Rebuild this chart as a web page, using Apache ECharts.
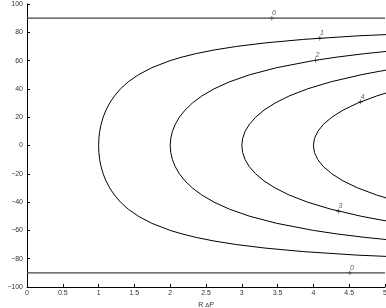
<!DOCTYPE html>
<html><head><meta charset="utf-8">
<script src="https://cdn.jsdelivr.net/npm/echarts@6/dist/echarts.min.js"></script>
<style>html,body{margin:0;padding:0;background:#fff}#c{width:386px;height:308px}</style>
</head><body><div id="c"></div>
<script>
// Axis ticks
const xTicks = [0,0.5,1,1.5,2,2.5,3,3.5,4,4.5,5];
const yTicks = [-100,-80,-60,-40,-20,0,20,40,60,80,100];
// Contour curves: [x (R ΔP), psi]
const curve1 = [[5.759,-80],[4.620,-77.5],[3.864,-75],[3.326,-72.5],[2.924,-70],[2.613,-67.5],[2.366,-65],[2.166,-62.5],[2.000,-60],[1.743,-55],[1.556,-50],[1.414,-45],[1.305,-40],[1.221,-35],[1.155,-30],[1.103,-25],[1.064,-20],[1.035,-15],[1.015,-10],[1.004,-5],[1.000,0],[1.004,5],[1.015,10],[1.035,15],[1.064,20],[1.103,25],[1.155,30],[1.221,35],[1.305,40],[1.414,45],[1.556,50],[1.743,55],[2.000,60],[2.166,62.5],[2.366,65],[2.613,67.5],[2.924,70],[3.326,72.5],[3.864,75],[4.620,77.5],[5.759,80]];
const curve2 = [[5.226,-67.5],[4.732,-65],[4.331,-62.5],[4.000,-60],[3.487,-55],[3.111,-50],[2.828,-45],[2.611,-40],[2.442,-35],[2.309,-30],[2.207,-25],[2.128,-20],[2.071,-15],[2.031,-10],[2.008,-5],[2.000,0],[2.008,5],[2.031,10],[2.071,15],[2.128,20],[2.207,25],[2.309,30],[2.442,35],[2.611,40],[2.828,45],[3.111,50],[3.487,55],[4.000,60],[4.331,62.5],[4.732,65],[5.226,67.5]];
const curve3 = [[5.230,-55],[4.928,-52.5],[4.667,-50],[4.243,-45],[3.916,-40],[3.662,-35],[3.464,-30],[3.310,-25],[3.193,-20],[3.106,-15],[3.046,-10],[3.012,-5],[3.000,0],[3.012,5],[3.046,10],[3.106,15],[3.193,20],[3.310,25],[3.464,30],[3.662,35],[3.916,40],[4.243,45],[4.667,50],[4.928,52.5],[5.230,55]];
const curve4 = [[5.042,-37.5],[4.883,-35],[4.619,-30],[4.414,-25],[4.257,-20],[4.141,-15],[4.062,-10],[4.015,-5],[4.000,0],[4.015,5],[4.062,10],[4.141,15],[4.257,20],[4.414,25],[4.619,30],[4.883,35],[5.042,37.5]];
const curve0top = [[0,90],[5,90]];
const curve0bot = [[0,-90],[5,-90]];
// Contour labels: [x, psi, text]
const contourLabels = [[3.42,90,'0'],[4.09,75.85,'1'],[4.03,60.24,'2'],[4.35,-46.4,'3'],[4.66,30.86,'4'],[4.51,-90,'0']];

const font = 'Liberation Sans, Arial, Helvetica, sans-serif';
const chart = echarts.init(document.getElementById('c'), null, {renderer:'canvas'});
function lineSeries(d, color, w){
  return {type:'line', data:d, showSymbol:false, symbol:'none', clip:true, animation:false,
    lineStyle:{color:color, width:w}, silent:true};
}
const fmt = v => String(v).replace('-', '\u2212');
chart.setOption({
  animation:false,
  grid:{left:27, right:1, top:4, bottom:21, containLabel:false, outerBoundsMode:'none'},
  xAxis:{type:'value', min:0, max:5, interval:0.5,
    name:'{a|R }{b|Δ}{a|P}', nameLocation:'middle', nameGap:13,
    nameTextStyle:{rich:{a:{fontSize:7,fontFamily:font,color:'#333'},b:{fontSize:6,fontFamily:font,color:'#333'}}},
    axisLine:{show:true, onZero:false, lineStyle:{color:'#000', width:1}},
    axisTick:{show:true, inside:true, length:3, lineStyle:{color:'#000'}},
    axisLabel:{fontSize:7, fontFamily:font, color:'#333', margin:3,
      formatter:v=>xTicks.includes(v)?fmt(v):''},
    splitLine:{show:false}},
  yAxis:{type:'value', min:-100, max:100, interval:20,
    name:'ψ', nameLocation:'middle', nameGap:22, nameRotate:90,
    nameTextStyle:{fontSize:7, fontFamily:font, color:'#555'},
    axisLine:{show:true, onZero:false, lineStyle:{color:'#000', width:1}},
    axisTick:{show:true, inside:true, length:3, lineStyle:{color:'#000'}},
    axisLabel:{fontSize:7, fontFamily:font, color:'#333', margin:4,
      formatter:v=>yTicks.includes(v)?fmt(v):''},
    splitLine:{show:false}},
  series:[
    lineSeries(curve0top,'#444',1.3),
    lineSeries(curve0bot,'#444',1.3),
    lineSeries(curve1,'#000',1),
    lineSeries(curve2,'#000',1),
    lineSeries(curve3,'#000',1),
    lineSeries(curve4,'#000',1),
    {type:'scatter', data:contourLabels.map(p=>({value:[p[0],p[1]], name:p[2]})),
      symbol:'path://M-0.12,-1H0.12V-0.12H1V0.12H0.12V1H-0.12V0.12H-1V-0.12H-0.12Z',
      symbolSize:5, itemStyle:{color:'#000'}, silent:true, animation:false,
      label:{show:true, position:'inside', offset:[2,-5], formatter:'{b}',
        fontSize:7, fontStyle:'italic', fontFamily:font, color:'#333'}}
  ]
});
</script></body></html>
